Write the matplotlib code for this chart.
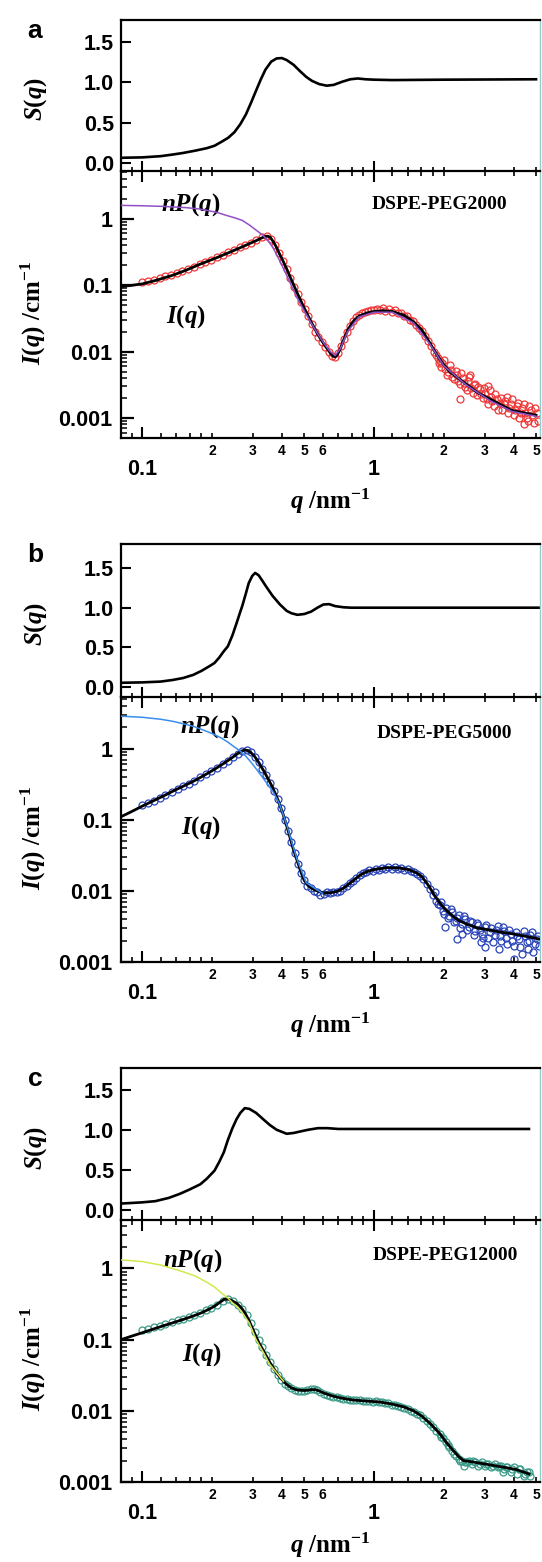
import matplotlib
matplotlib.use("Agg")
from matplotlib import pyplot as plt
from matplotlib.ticker import FixedLocator, FixedFormatter, LogLocator, NullFormatter

plt.rcParams['font.family'] = ['Liberation Sans', 'DejaVu Sans']
plt.rcParams['font.weight'] = 'bold'
plt.rcParams['mathtext.fontset'] = 'custom'
plt.rcParams['mathtext.rm'] = 'Liberation Serif:bold'
plt.rcParams['mathtext.it'] = 'Liberation Serif:italic:bold'
plt.rcParams['mathtext.bf'] = 'Liberation Serif:bold'

# ---------------- panel a : DSPE-PEG2000 ----------------
sq_q_a = [0.081, 0.10, 0.12, 0.135, 0.15, 0.17, 0.19, 0.205, 0.22, 0.235, 0.25, 0.265, 0.28, 0.295,
          0.31, 0.325, 0.34, 0.36, 0.38, 0.40, 0.42, 0.45, 0.48, 0.51, 0.54, 0.58, 0.625, 0.67, 0.73,
          0.79, 0.85, 0.92, 1.0, 1.2, 2.0, 5.0]
sq_s_a = [0.06, 0.065, 0.08, 0.10, 0.12, 0.15, 0.18, 0.21, 0.26, 0.31, 0.38, 0.48, 0.60, 0.75,
          0.90, 1.04, 1.16, 1.26, 1.30, 1.305, 1.28, 1.22, 1.14, 1.07, 1.02, 0.98, 0.96, 0.97, 1.01,
          1.04, 1.05, 1.04, 1.035, 1.03, 1.035, 1.04]

fit_q_a = [0.081, 0.09, 0.10, 0.115, 0.135, 0.155, 0.177, 0.205, 0.235, 0.265, 0.29, 0.31, 0.325, 0.338,
           0.348, 0.357, 0.366, 0.378, 0.39, 0.405, 0.42, 0.44, 0.467, 0.50, 0.535, 0.575, 0.615, 0.645,
           0.665, 0.68, 0.695, 0.715, 0.74, 0.77, 0.81, 0.86, 0.93, 1.00, 1.10, 1.20, 1.35, 1.48, 1.61,
           1.74, 1.87, 2.00, 2.12, 2.30, 2.51, 2.80, 3.19, 3.50, 3.93, 4.40, 5.00]
fit_i_a = [0.095, 0.099, 0.104, 0.118, 0.140, 0.168, 0.205, 0.250, 0.305, 0.365, 0.42, 0.465, 0.505, 0.535,
           0.545, 0.52, 0.46, 0.38, 0.30, 0.23, 0.175, 0.12, 0.075, 0.045, 0.028, 0.0175, 0.0122, 0.0097,
           0.0085, 0.0083, 0.0090, 0.0110, 0.0150, 0.021, 0.028, 0.034, 0.038, 0.040, 0.041, 0.040, 0.035, 0.028, 0.021,
           0.0135, 0.0088, 0.0063, 0.0050, 0.0040, 0.0032, 0.0024, 0.0019, 0.0016, 0.0013, 0.0012, 0.0011]

np_q_a = [0.081, 0.10, 0.12, 0.135, 0.155, 0.175, 0.19, 0.21, 0.23, 0.25, 0.27, 0.29, 0.31, 0.33,
          0.348, 0.366, 0.39, 0.42, 0.467, 0.50, 0.535, 0.575, 0.615, 0.645, 0.68, 0.715, 0.77, 0.86,
          1.00, 1.20, 1.48, 1.74, 2.00, 2.51, 3.19, 3.93, 5.00]
np_i_a = [1.58, 1.56, 1.53, 1.50, 1.46, 1.40, 1.33, 1.24, 1.12, 1.03, 0.94, 0.80, 0.67, 0.57,
          0.47, 0.37, 0.24, 0.14, 0.063, 0.041, 0.027, 0.0178, 0.0126, 0.0101, 0.0087, 0.0110, 0.020, 0.033,
          0.039, 0.039, 0.027, 0.013, 0.0061, 0.0031, 0.0018, 0.00126, 0.00106]

data_q_a = [0.100, 0.106, 0.112, 0.119, 0.126, 0.133, 0.141, 0.149, 0.158, 0.167, 0.177, 0.187, 0.198, 0.210,
            0.222, 0.235, 0.249, 0.263, 0.278, 0.294, 0.311, 0.329, 0.345, 0.360, 0.375, 0.390, 0.405, 0.420,
            0.436, 0.452, 0.468, 0.485, 0.502, 0.520, 0.538, 0.557, 0.576, 0.596, 0.617, 0.638, 0.660, 0.680,
            0.700, 0.720, 0.742, 0.764, 0.787, 0.810, 0.835, 0.860, 0.886, 0.913, 0.940, 0.968, 0.997, 1.03,
            1.06, 1.09, 1.12, 1.16, 1.19, 1.23, 1.27, 1.31, 1.35, 1.39, 1.43, 1.48, 1.52, 1.57, 1.61, 1.66,
            1.71, 1.76, 1.81, 1.86, 1.90, 1.92, 1.97, 2.03, 2.09, 2.15, 2.21, 2.28, 2.34, 2.35, 2.41, 2.48,
            2.55, 2.62, 2.70, 2.78, 2.86, 2.94, 3.02, 3.11, 3.20, 3.29, 3.38, 3.48, 3.58, 3.68, 3.79, 3.90,
            4.01, 4.12, 4.24, 4.36, 4.49, 4.62, 4.75, 4.89, 5.03,
            1.88, 1.94, 2.00, 2.06, 2.12, 2.18, 2.25, 2.31, 2.38, 2.44, 2.51, 2.58, 2.60, 2.66, 2.74, 2.82,
            2.90, 2.98, 3.06, 3.10, 3.15, 3.24, 3.33, 3.43, 3.53, 3.63, 3.73, 3.84, 3.95, 4.06, 4.18, 4.30,
            4.42, 4.45, 4.55, 4.68, 4.82, 4.96, 5.08]
data_i_a = [0.110, 0.115, 0.121, 0.128, 0.135, 0.143, 0.153, 0.163, 0.175, 0.189, 0.205, 0.222, 0.240, 0.262,
            0.285, 0.310, 0.338, 0.368, 0.400, 0.435, 0.475, 0.520, 0.545, 0.500, 0.395, 0.300, 0.230, 0.176,
            0.128, 0.095, 0.073, 0.056, 0.043, 0.034, 0.026, 0.020, 0.0165, 0.0138, 0.0116, 0.0099, 0.0086, 0.0082,
            0.0095, 0.0120, 0.0155, 0.0195, 0.0245, 0.0290, 0.0330, 0.0355, 0.0375, 0.0390, 0.0405, 0.0420, 0.0415, 0.0430,
            0.0420, 0.0445, 0.0410, 0.0435, 0.0400, 0.0420, 0.0380, 0.0385, 0.0345, 0.0340, 0.0300, 0.0285, 0.0250, 0.0225, 0.0205, 0.0170,
            0.0145, 0.0120, 0.0100, 0.0088, 0.0067, 0.0072, 0.0068, 0.0055, 0.0049, 0.0052, 0.0038, 0.0044, 0.0033, 0.0019, 0.0040, 0.0029,
            0.0036, 0.0028, 0.0031, 0.0022, 0.0027, 0.0020, 0.0024, 0.0016, 0.0021, 0.0015, 0.0019, 0.0017, 0.0013, 0.0018, 0.0012, 0.0016,
            0.0011, 0.0015, 0.0010, 0.0014, 0.0012, 0.0009, 0.0013, 0.00085, 0.0012,
            0.0080, 0.0058, 0.0075, 0.0045, 0.0062, 0.0042, 0.0051, 0.0036, 0.0047, 0.0034, 0.0026, 0.0041, 0.0045, 0.0024, 0.0033, 0.0029,
            0.0023, 0.0028, 0.0019, 0.0030, 0.0026, 0.0018, 0.0023, 0.0013, 0.0020, 0.0016, 0.0021, 0.0014, 0.0019, 0.0013, 0.0017, 0.0012,
            0.0016, 0.0008, 0.0010, 0.0015, 0.0011, 0.0014, 0.0009]

# ---------------- panel b : DSPE-PEG5000 ----------------
sq_q_b = [0.081, 0.10, 0.12, 0.135, 0.15, 0.166, 0.18, 0.195, 0.205, 0.215, 0.225, 0.234, 0.245, 0.255,
          0.265, 0.27, 0.28, 0.288, 0.298, 0.307, 0.318, 0.33, 0.342, 0.365, 0.393, 0.42, 0.44, 0.467,
          0.50, 0.535, 0.57, 0.604, 0.64, 0.68, 0.74, 0.80, 5.2]
sq_s_b = [0.05, 0.055, 0.065, 0.085, 0.11, 0.15, 0.20, 0.26, 0.30, 0.37, 0.45, 0.51, 0.65, 0.80,
          0.95, 1.02, 1.18, 1.31, 1.40, 1.44, 1.41, 1.34, 1.27, 1.15, 1.04, 0.96, 0.93, 0.91,
          0.92, 0.95, 1.00, 1.04, 1.045, 1.02, 1.005, 1.0, 1.0]

fit_q_b = [0.081, 0.09, 0.10, 0.112, 0.125, 0.14, 0.155, 0.17, 0.185, 0.205, 0.225, 0.245, 0.258, 0.268,
           0.277, 0.285, 0.294, 0.305, 0.318, 0.335, 0.35, 0.366, 0.385, 0.405, 0.425, 0.445, 0.467, 0.485,
           0.50, 0.52, 0.554, 0.604, 0.65, 0.70, 0.75, 0.81, 0.87, 0.93, 1.00, 1.14, 1.28, 1.40, 1.52,
           1.61, 1.72, 1.84, 1.97, 2.12, 2.30, 2.51, 2.80, 3.19, 3.60, 3.93, 4.50, 5.20]
fit_i_b = [0.11, 0.13, 0.155, 0.185, 0.22, 0.265, 0.31, 0.36, 0.42, 0.51, 0.62, 0.75, 0.85, 0.92,
           0.955, 0.94, 0.88, 0.78, 0.64, 0.48, 0.37, 0.28, 0.19, 0.12, 0.072, 0.042, 0.026, 0.018,
           0.014, 0.0118, 0.0103, 0.0093, 0.0094, 0.0099, 0.0113, 0.0138, 0.0166, 0.0186, 0.0199, 0.0212, 0.0210, 0.0200, 0.0180,
           0.0158, 0.0118, 0.0082, 0.0061, 0.0048, 0.0039, 0.0034, 0.0030, 0.0028, 0.0026, 0.0025, 0.0023, 0.0021]

np_q_b = [0.081, 0.10, 0.12, 0.135, 0.155, 0.17, 0.19, 0.205, 0.22, 0.235, 0.25, 0.265, 0.28, 0.295,
          0.31, 0.335, 0.366, 0.39, 0.42, 0.445, 0.467, 0.51, 0.60]
np_i_b = [2.85, 2.75, 2.58, 2.42, 2.18, 2.00, 1.74, 1.57, 1.40, 1.22, 1.05, 0.92, 0.78, 0.64,
          0.52, 0.37, 0.25, 0.17, 0.085, 0.045, 0.027, 0.013, 0.0092]

data_q_b = [0.100, 0.106, 0.112, 0.119, 0.126, 0.134, 0.142, 0.150, 0.159, 0.168, 0.178, 0.188, 0.199, 0.210,
            0.222, 0.234, 0.246, 0.258, 0.270, 0.282, 0.294, 0.306, 0.318, 0.330, 0.343, 0.356, 0.370, 0.384,
            0.398, 0.412, 0.426, 0.440, 0.455, 0.470, 0.485, 0.500, 0.516, 0.533, 0.550, 0.568, 0.587, 0.606,
            0.626, 0.647, 0.668, 0.690, 0.713, 0.737, 0.761, 0.786, 0.812, 0.838, 0.866, 0.894, 0.924, 0.954,
            0.985, 1.02, 1.05, 1.08, 1.12, 1.15, 1.19, 1.23, 1.27, 1.31, 1.35, 1.40, 1.44, 1.49, 1.53, 1.58,
            1.63, 1.69, 1.74, 1.80, 1.86, 1.92, 1.98, 2.02, 2.05, 2.11, 2.18, 2.25, 2.28, 2.32, 2.40, 2.48,
            2.56, 2.64, 2.73, 2.82, 2.90, 2.91, 3.00, 3.10, 3.20, 3.31, 3.42, 3.45, 3.53, 3.64, 3.76, 3.89,
            4.01, 4.14, 4.28, 4.42, 4.57, 4.72, 4.87, 5.03, 5.15,
            1.83, 1.89, 1.95, 2.01, 2.08, 2.15, 2.21, 2.29, 2.36, 2.40, 2.44, 2.52, 2.60, 2.69, 2.78, 2.87,
            2.96, 3.00, 3.05, 3.15, 3.26, 3.36, 3.48, 3.59, 3.70, 3.82, 3.95, 4.00, 4.08, 4.21, 4.35, 4.49,
            4.60, 4.64, 4.79, 4.95, 5.10]
data_i_b = [0.160, 0.172, 0.186, 0.203, 0.222, 0.244, 0.268, 0.293, 0.322, 0.355, 0.392, 0.433, 0.480, 0.535,
            0.600, 0.670, 0.750, 0.840, 0.920, 0.950, 0.890, 0.770, 0.640, 0.520, 0.420, 0.330, 0.255, 0.195,
            0.145, 0.100, 0.070, 0.048, 0.034, 0.024, 0.018, 0.0142, 0.0118, 0.0108, 0.0100, 0.0096, 0.0088, 0.0090,
            0.0095, 0.0094, 0.0097, 0.0096, 0.0101, 0.0108, 0.0117, 0.0127, 0.0138, 0.0152, 0.0165, 0.0178, 0.0186, 0.0195,
            0.0192, 0.0205, 0.0198, 0.0210, 0.0202, 0.0215, 0.0205, 0.0218, 0.0200, 0.0212, 0.0195, 0.0205, 0.0190, 0.0185, 0.0175, 0.0160,
            0.0145, 0.0125, 0.0105, 0.0088, 0.0072, 0.0064, 0.0052, 0.0031, 0.0058, 0.0045, 0.0050, 0.0038, 0.0021, 0.0046, 0.0034, 0.0040,
            0.0031, 0.0036, 0.0027, 0.0033, 0.0019, 0.0025, 0.0031, 0.0022, 0.0030, 0.0024, 0.0032, 0.0015, 0.0020, 0.0027, 0.0018, 0.0025,
            0.0011, 0.0023, 0.0016, 0.0027, 0.0019, 0.0024, 0.0014, 0.0021, 0.0017,
            0.0095, 0.0065, 0.0070, 0.0048, 0.0042, 0.0055, 0.0036, 0.0042, 0.0030, 0.0025, 0.0045, 0.0028, 0.0038, 0.0024, 0.0035, 0.0028,
            0.0022, 0.0016, 0.0033, 0.0026, 0.0019, 0.0028, 0.0023, 0.0031, 0.0022, 0.0028, 0.0020, 0.0017, 0.0026, 0.0021, 0.0013, 0.0023,
            0.0015, 0.0020, 0.0026, 0.0018, 0.0023]

# ---------------- panel c : DSPE-PEG12000 ----------------
sq_q_c = [0.081, 0.10, 0.114, 0.13, 0.145, 0.16, 0.178, 0.19, 0.205, 0.215, 0.225, 0.234, 0.245, 0.255,
          0.265, 0.277, 0.29, 0.31, 0.33, 0.355, 0.38, 0.42, 0.45, 0.483, 0.52, 0.573, 0.63, 0.70, 4.66]
sq_s_c = [0.08, 0.095, 0.11, 0.15, 0.20, 0.255, 0.32, 0.39, 0.49, 0.60, 0.72, 0.87, 1.02, 1.13,
          1.21, 1.27, 1.26, 1.21, 1.14, 1.06, 1.00, 0.95, 0.96, 0.98, 1.00, 1.02, 1.02, 1.01, 1.01]

fit_q_c = [0.081, 0.09, 0.10, 0.111, 0.122, 0.135, 0.15, 0.166, 0.18, 0.195, 0.205, 0.215, 0.226, 0.236,
           0.245, 0.257, 0.27, 0.28, 0.29, 0.30, 0.31, 0.32, 0.33, 0.342, 0.355, 0.37, 0.38, 0.395,
           0.407, 0.42, 0.44, 0.467, 0.50, 0.52, 0.54, 0.56, 0.58, 0.61, 0.66, 0.73, 0.81, 0.93, 1.06,
           1.20, 1.35, 1.48, 1.61, 1.75, 1.91, 2.05, 2.19, 2.31, 2.43, 2.70, 2.98, 3.30, 3.67, 4.10, 4.66]
fit_i_c = [0.10, 0.112, 0.125, 0.14, 0.155, 0.172, 0.192, 0.215, 0.238, 0.27, 0.295, 0.33, 0.37, 0.37,
           0.35, 0.32, 0.27, 0.225, 0.18, 0.14, 0.11, 0.088, 0.074, 0.060, 0.048, 0.039, 0.034, 0.029,
           0.026, 0.0235, 0.021, 0.0196, 0.0193, 0.0195, 0.0199, 0.0198, 0.019, 0.0177, 0.0162, 0.015, 0.0142, 0.0137, 0.0133,
           0.0124, 0.0113, 0.0100, 0.0084, 0.0066, 0.0049, 0.0036, 0.0028, 0.0023, 0.0020, 0.0019, 0.0018, 0.0017, 0.0016, 0.0015, 0.0013]

np_q_c = [0.081, 0.10, 0.12, 0.135, 0.15, 0.17, 0.19, 0.205, 0.22, 0.235, 0.245, 0.26, 0.27, 0.29,
          0.31, 0.33, 0.355, 0.407]
np_i_c = [1.32, 1.25, 1.12, 1.00, 0.90, 0.78, 0.64, 0.55, 0.45, 0.38, 0.33, 0.28, 0.24, 0.17,
          0.10, 0.070, 0.045, 0.026]

data_q_c = [0.100, 0.106, 0.112, 0.119, 0.126, 0.134, 0.142, 0.150, 0.159, 0.168, 0.178, 0.188, 0.199, 0.210,
            0.222, 0.234, 0.246, 0.258, 0.270, 0.282, 0.294, 0.306, 0.318, 0.330, 0.343, 0.356, 0.370, 0.384,
            0.398, 0.412, 0.426, 0.440, 0.455, 0.470, 0.485, 0.500, 0.516, 0.533, 0.550, 0.568, 0.587, 0.606,
            0.626, 0.647, 0.668, 0.690, 0.713, 0.737, 0.761, 0.786, 0.812, 0.838, 0.866, 0.894, 0.924, 0.954,
            0.985, 1.02, 1.05, 1.08, 1.12, 1.15, 1.19, 1.23, 1.27, 1.31, 1.35, 1.40, 1.44, 1.49, 1.53, 1.58,
            1.63, 1.69, 1.74, 1.80, 1.86, 1.92, 1.98, 2.05, 2.11, 2.18, 2.25, 2.32, 2.40, 2.48, 2.56, 2.64,
            2.73, 2.82, 2.91, 3.00, 3.10, 3.20, 3.31, 3.42, 3.53, 3.64, 3.76, 3.89, 4.01, 4.14, 4.28, 4.42,
            4.57, 4.72,
            1.95, 2.08, 2.22, 2.36, 2.45, 2.52, 2.68, 2.86, 3.05, 3.25, 3.47, 3.60, 3.70, 3.95, 4.21, 4.49, 4.65]
data_i_c = [0.135, 0.142, 0.150, 0.158, 0.166, 0.176, 0.187, 0.198, 0.210, 0.224, 0.240, 0.258, 0.280, 0.310,
            0.350, 0.375, 0.350, 0.310, 0.270, 0.220, 0.170, 0.130, 0.100, 0.078, 0.060, 0.048, 0.039, 0.032,
            0.027, 0.024, 0.022, 0.021, 0.0198, 0.0192, 0.0190, 0.0190, 0.0195, 0.0200, 0.0200, 0.0195, 0.0184, 0.0175,
            0.0168, 0.0162, 0.0158, 0.0155, 0.0151, 0.0149, 0.0146, 0.0144, 0.0142, 0.0141, 0.0140, 0.0139, 0.0137, 0.0138,
            0.0135, 0.0136, 0.0132, 0.0133, 0.0128, 0.0127, 0.0122, 0.0121, 0.0116, 0.0113, 0.0111, 0.0106, 0.0101, 0.0097, 0.0091, 0.0086,
            0.0080, 0.0072, 0.0066, 0.0059, 0.0052, 0.0047, 0.0041, 0.0036, 0.0031, 0.0027, 0.0023, 0.0021, 0.0020, 0.0019, 0.0020, 0.0018,
            0.0019, 0.0017, 0.0019, 0.0017, 0.0018, 0.0016, 0.0018, 0.0016, 0.0017, 0.0015, 0.0016, 0.0014, 0.0016, 0.0013, 0.0015, 0.0012,
            0.0014, 0.0012,
            0.0043, 0.0033, 0.0025, 0.0020, 0.0017, 0.0019, 0.0020, 0.0018, 0.0018, 0.0017, 0.0017, 0.0014, 0.0016, 0.0015, 0.0015, 0.0013, 0.0014]

# x ticks shared by every panel
major_xt = [0.1, 1]
major_xl = ['0.1', '1']
minor_xt = [0.09, 0.12, 0.14, 0.16, 0.18, 0.2, 0.3, 0.4, 0.5, 0.6, 0.7, 0.8, 0.9,
            1.2, 1.4, 1.6, 1.8, 2, 3, 4, 5]
minor_xl = ['', '', '', '', '', '2', '3', '4', '5', '6', '', '', '',
            '', '', '', '', '2', '3', '4', '5']
s_ticks = [0.0, 0.5, 1.0, 1.5]
s_labels = ['0.0', '0.5', '1.0', '1.5']
i_ticks = [0.001, 0.01, 0.1, 1]
i_labels = ['0.001', '0.01', '0.1', '1']

W, H = 542.0, 1562.0
fig = plt.figure(figsize=(W / 100, H / 100), dpi=100)


def panel(top, mid, bot, letter, name, sq_q, sq_s, fit_q, fit_i, np_q, np_i, dq, di,
          col, npcol, s_lim, i_lim, np_pos, name_pos, iq_pos):
    left, right = 121, 540
    ax_s = fig.add_axes([left / W, 1 - mid / H, (right - left) / W, (mid - top) / H])
    ax_i = fig.add_axes([left / W, 1 - bot / H, (right - left) / W, (bot - mid) / H])

    for ax in (ax_s, ax_i):
        ax.set_xscale('log')
        ax.set_xlim(0.081, 5.2)
        for sp in ax.spines.values():
            sp.set_linewidth(1.6)
        ax.spines['right'].set_color('#8ccfd0')
        ax.spines['right'].set_linewidth(1.0)
        ax.xaxis.set_major_locator(FixedLocator(major_xt))
        ax.xaxis.set_minor_locator(FixedLocator(minor_xt))

    # S(q)
    ax_s.plot(sq_q, sq_s, color='black', lw=1.9)
    ax_s.set_ylim(*s_lim)
    ax_s.yaxis.set_major_locator(FixedLocator(s_ticks))
    ax_s.yaxis.set_major_formatter(FixedFormatter(s_labels))
    ax_s.tick_params(axis='y', direction='in', length=7, width=1.5, labelsize=15.5, pad=5)
    ax_s.tick_params(axis='x', which='both', direction='in', bottom=True, top=False, labelbottom=False)
    ax_s.tick_params(axis='x', which='major', length=7, width=1.5)
    ax_s.tick_params(axis='x', which='minor', length=3, width=1.2)
    ax_s.spines['bottom'].set_visible(False)

    # I(q)
    ax_i.set_yscale('log')
    ax_i.plot(dq, di, 'o', ms=5, mfc='none', mec=col, mew=0.9, zorder=2)
    ax_i.plot(fit_q, fit_i, color='black', lw=2.0, zorder=3)
    ax_i.plot(np_q, np_i, color=npcol, lw=1.1, zorder=4)
    ax_i.set_ylim(*i_lim)
    ax_i.yaxis.set_major_locator(FixedLocator(i_ticks))
    ax_i.yaxis.set_major_formatter(FixedFormatter(i_labels))
    ax_i.yaxis.set_minor_locator(LogLocator(base=10, subs=range(2, 10)))
    ax_i.yaxis.set_minor_formatter(NullFormatter())
    ax_i.xaxis.set_major_formatter(FixedFormatter(major_xl))
    ax_i.xaxis.set_minor_formatter(FixedFormatter(minor_xl))
    ax_i.tick_params(axis='y', which='major', direction='in', length=9, width=1.6, labelsize=15.5, pad=6)
    ax_i.tick_params(axis='y', which='minor', direction='in', length=4, width=1.1)
    ax_i.tick_params(axis='x', which='both', direction='in', top=True, bottom=True)
    ax_i.tick_params(axis='x', which='major', length=8, width=1.5, labelsize=15.5, pad=15)
    ax_i.tick_params(axis='x', which='minor', length=3.5, width=1.2, labelsize=10, pad=4)
    ax_i.set_xlabel(r'$q\ /\mathrm{nm}^{-1}$', fontsize=18, labelpad=5)

    ax_i.text(np_pos[0], np_pos[1], r'$nP(q)$', transform=ax_i.transAxes, fontsize=18,
              ha='center', va='center')
    ax_i.text(name_pos[0], name_pos[1], name, transform=ax_i.transAxes, fontsize=14,
              family='Liberation Serif', fontweight='bold', ha='center', va='center')
    ax_i.text(iq_pos[0], iq_pos[1], r'$I(q)$', transform=ax_i.transAxes, fontsize=18,
              ha='center', va='center')

    fig.text(36 / W, 1 - ((top + mid) / 2 + 4) / H, r'$S(q)$', rotation=90, fontsize=18,
             ha='center', va='center')
    fig.text(33 / W, 1 - ((mid + bot) / 2 + 8) / H, r'$I(q)\ /\mathrm{cm}^{-1}$', rotation=90,
             fontsize=18, ha='center', va='center')
    fig.text(35 / W, 1 - (top + 11) / H, letter, fontsize=19, fontweight='bold',
             ha='center', va='center')


panel(20, 171, 438, 'a', 'DSPE-PEG2000', sq_q_a, sq_s_a, fit_q_a, fit_i_a, np_q_a, np_i_a,
      data_q_a, data_i_a, '#f03838', '#9050c8', (-0.105, 1.78), (5e-4, 5.2),
      (0.167, 0.876), (0.761, 0.876), (0.155, 0.453))
panel(544, 697, 962, 'b', 'DSPE-PEG5000', sq_q_b, sq_s_b, fit_q_b, fit_i_b, np_q_b, np_i_b,
      data_q_b, data_i_b, '#2a44b8', '#3a8ef0', (-0.13, 1.806), (1e-3, 5.3),
      (0.212, 0.887), (0.771, 0.862), (0.191, 0.507))
panel(1068, 1220, 1482, 'c', 'DSPE-PEG12000', sq_q_c, sq_s_c, fit_q_c, fit_i_c, np_q_c, np_i_c,
      data_q_c, data_i_c, '#3a9a88', '#d4e84c', (-0.125, 1.77), (1e-3, 4.8),
      (0.172, 0.845), (0.773, 0.866), (0.193, 0.485))

fig.savefig('out.png', dpi=100)
